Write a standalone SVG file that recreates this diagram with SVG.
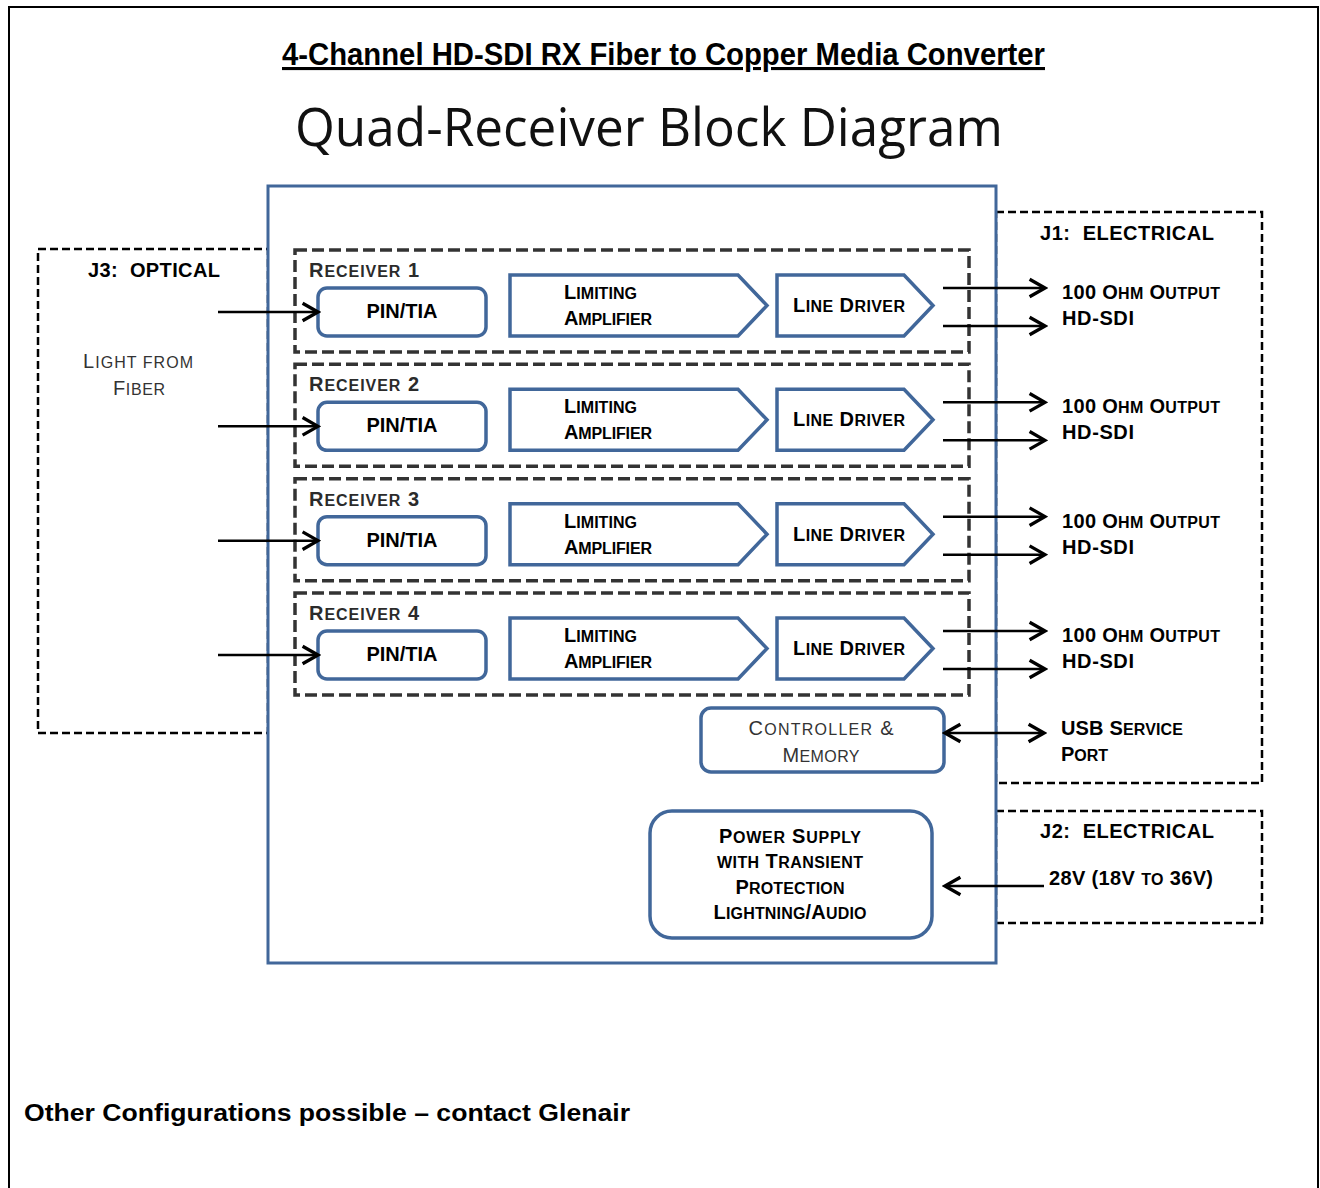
<svg xmlns="http://www.w3.org/2000/svg" width="1320" height="1188" viewBox="0 0 1320 1188">
<style>
text{font-family:"Liberation Sans",Arial,sans-serif;fill:#000}
.b{font-weight:bold;font-size:20px}
.r{font-weight:normal;font-size:20px;fill:#333}
.sc{font-size:16px}
.lbl{fill:#2b2b2b}
.blue{fill:#fff;stroke:#41679a;stroke-width:3.5}
.jbox{fill:none;stroke:#000;stroke-width:2.5;stroke-dasharray:8 4}
.rbox{fill:none;stroke:#333;stroke-width:3.5;stroke-dasharray:12 5}
.conn{stroke:#000;stroke-width:2.5;fill:none}
</style>
<defs>
<marker id="ah" markerUnits="userSpaceOnUse" markerWidth="22" markerHeight="22" viewBox="0 0 20 20" refX="17" refY="10" orient="auto-start-reverse">
<path d="M3,2 L17,10 L3,18" fill="none" stroke="#000" stroke-width="3"/>
</marker>
</defs>
<rect width="1320" height="1188" fill="#fff"/>
<path d="M9,1188 V7 H1318 V1188" fill="none" stroke="#000" stroke-width="2"/>

<text x="282" y="65" font-size="31" font-weight="bold" textLength="763" lengthAdjust="spacingAndGlyphs" text-decoration="underline">4-Channel HD-SDI RX Fiber to Copper Media Converter</text>
<text x="649" y="146" text-anchor="middle" style="font-family:'Open Sans','Noto Sans',sans-serif;font-size:53px;fill:#111" textLength="708" lengthAdjust="spacingAndGlyphs">Quad-Receiver Block Diagram</text>

<g id="j3">
<rect class="jbox" x="38" y="249" width="230" height="484"/>
<text class="b" x="88" y="277" textLength="132" xml:space="preserve">J3:  OPTICAL</text>
<text class="r" x="83" y="368" textLength="110">L<tspan class="sc">IGHT FROM</tspan></text>
<text class="r" x="113" y="395" textLength="52">F<tspan class="sc">IBER</tspan></text>
</g>
<g id="j1">
<rect class="jbox" x="996" y="212" width="266" height="571"/>
<text class="b" x="1040" y="240" textLength="174" xml:space="preserve">J1:  ELECTRICAL</text>
</g>
<g id="j2">
<rect class="jbox" x="996" y="811" width="266" height="112"/>
<text class="b" x="1040" y="838" textLength="174" xml:space="preserve">J2:  ELECTRICAL</text>
<text class="b" x="1049" y="885" textLength="164">28V (18V <tspan class="sc">TO</tspan> 36V)</text>
</g>

<g id="main">
<rect x="268" y="186" width="728" height="777" fill="#fff" stroke="#41679a" stroke-width="3"/>
</g>

<g id="receiver1">
<rect class="rbox" x="295" y="250" width="674" height="102"/>
<text class="b lbl" x="309" y="277" textLength="110">R<tspan class="sc">ECEIVER</tspan> 1</text>
</g>
<g id="receiver2" transform="translate(0,114.33)">
<rect class="rbox" x="295" y="250" width="674" height="102"/>
<text class="b lbl" x="309" y="277" textLength="110">R<tspan class="sc">ECEIVER</tspan> 2</text>
</g>
<g id="receiver3" transform="translate(0,228.67)">
<rect class="rbox" x="295" y="250" width="674" height="102"/>
<text class="b lbl" x="309" y="277" textLength="110">R<tspan class="sc">ECEIVER</tspan> 3</text>
</g>
<g id="receiver4" transform="translate(0,343)">
<rect class="rbox" x="295" y="250" width="674" height="102"/>
<text class="b lbl" x="309" y="277" textLength="110">R<tspan class="sc">ECEIVER</tspan> 4</text>
</g>

<g id="pintia1">
<rect class="blue" x="318" y="288" width="168" height="48" rx="9"/>
<text class="b" x="402" y="318" text-anchor="middle" font-size="20.5">PIN/TIA</text>
</g>
<g id="limamp1">
<path class="blue" d="M510,275 H738 L767,305.5 L738,336 H510 Z"/>
<text class="b" x="564" y="299" textLength="73">L<tspan class="sc">IMITING</tspan></text>
<text class="b" x="564" y="325" textLength="88">A<tspan class="sc">MPLIFIER</tspan></text>
</g>
<g id="linedrv1">
<path class="blue" d="M777,275 H904 L933,305.5 L904,336 H777 Z"/>
<text class="b" x="793" y="312" textLength="112">L<tspan class="sc">INE</tspan> D<tspan class="sc">RIVER</tspan></text>
</g>
<g id="out1">
<text class="b" x="1062" y="299" textLength="158">100 O<tspan class="sc">HM</tspan> O<tspan class="sc">UTPUT</tspan></text>
<text class="b" x="1062" y="325" textLength="72">HD-SDI</text>
</g>

<g id="pintia2" transform="translate(0,114.33)">
<rect class="blue" x="318" y="288" width="168" height="48" rx="9"/>
<text class="b" x="402" y="318" text-anchor="middle" font-size="20.5">PIN/TIA</text>
</g>
<g id="limamp2" transform="translate(0,114.33)">
<path class="blue" d="M510,275 H738 L767,305.5 L738,336 H510 Z"/>
<text class="b" x="564" y="299" textLength="73">L<tspan class="sc">IMITING</tspan></text>
<text class="b" x="564" y="325" textLength="88">A<tspan class="sc">MPLIFIER</tspan></text>
</g>
<g id="linedrv2" transform="translate(0,114.33)">
<path class="blue" d="M777,275 H904 L933,305.5 L904,336 H777 Z"/>
<text class="b" x="793" y="312" textLength="112">L<tspan class="sc">INE</tspan> D<tspan class="sc">RIVER</tspan></text>
</g>
<g id="out2" transform="translate(0,114.33)">
<text class="b" x="1062" y="299" textLength="158">100 O<tspan class="sc">HM</tspan> O<tspan class="sc">UTPUT</tspan></text>
<text class="b" x="1062" y="325" textLength="72">HD-SDI</text>
</g>

<g id="pintia3" transform="translate(0,228.67)">
<rect class="blue" x="318" y="288" width="168" height="48" rx="9"/>
<text class="b" x="402" y="318" text-anchor="middle" font-size="20.5">PIN/TIA</text>
</g>
<g id="limamp3" transform="translate(0,228.67)">
<path class="blue" d="M510,275 H738 L767,305.5 L738,336 H510 Z"/>
<text class="b" x="564" y="299" textLength="73">L<tspan class="sc">IMITING</tspan></text>
<text class="b" x="564" y="325" textLength="88">A<tspan class="sc">MPLIFIER</tspan></text>
</g>
<g id="linedrv3" transform="translate(0,228.67)">
<path class="blue" d="M777,275 H904 L933,305.5 L904,336 H777 Z"/>
<text class="b" x="793" y="312" textLength="112">L<tspan class="sc">INE</tspan> D<tspan class="sc">RIVER</tspan></text>
</g>
<g id="out3" transform="translate(0,228.67)">
<text class="b" x="1062" y="299" textLength="158">100 O<tspan class="sc">HM</tspan> O<tspan class="sc">UTPUT</tspan></text>
<text class="b" x="1062" y="325" textLength="72">HD-SDI</text>
</g>

<g id="pintia4" transform="translate(0,343)">
<rect class="blue" x="318" y="288" width="168" height="48" rx="9"/>
<text class="b" x="402" y="318" text-anchor="middle" font-size="20.5">PIN/TIA</text>
</g>
<g id="limamp4" transform="translate(0,343)">
<path class="blue" d="M510,275 H738 L767,305.5 L738,336 H510 Z"/>
<text class="b" x="564" y="299" textLength="73">L<tspan class="sc">IMITING</tspan></text>
<text class="b" x="564" y="325" textLength="88">A<tspan class="sc">MPLIFIER</tspan></text>
</g>
<g id="linedrv4" transform="translate(0,343)">
<path class="blue" d="M777,275 H904 L933,305.5 L904,336 H777 Z"/>
<text class="b" x="793" y="312" textLength="112">L<tspan class="sc">INE</tspan> D<tspan class="sc">RIVER</tspan></text>
</g>
<g id="out4" transform="translate(0,343)">
<text class="b" x="1062" y="299" textLength="158">100 O<tspan class="sc">HM</tspan> O<tspan class="sc">UTPUT</tspan></text>
<text class="b" x="1062" y="325" textLength="72">HD-SDI</text>
</g>

<g id="controller">
<rect class="blue" x="701" y="708" width="243" height="64" rx="10"/>
<text class="r" x="821" y="735" text-anchor="middle" textLength="145">C<tspan class="sc">ONTROLLER</tspan> &amp;</text>
<text class="r" x="821" y="762" text-anchor="middle" textLength="77">M<tspan class="sc">EMORY</tspan></text>
</g>
<g id="usb">
<text class="b" x="1061" y="735" textLength="122">USB S<tspan class="sc">ERVICE</tspan></text>
<text class="b" x="1061" y="761" textLength="47">P<tspan class="sc">ORT</tspan></text>
</g>
<g id="power">
<rect class="blue" x="650" y="811" width="282" height="127" rx="22"/>
<text class="b" x="790" y="843" text-anchor="middle" textLength="142">P<tspan class="sc">OWER</tspan> S<tspan class="sc">UPPLY</tspan></text>
<text class="b" x="790" y="868" text-anchor="middle" textLength="146"><tspan class="sc">WITH</tspan> T<tspan class="sc">RANSIENT</tspan></text>
<text class="b" x="790" y="894" text-anchor="middle" textLength="109">P<tspan class="sc">ROTECTION</tspan></text>
<text class="b" x="790" y="919" text-anchor="middle" textLength="153">L<tspan class="sc">IGHTNING</tspan>/A<tspan class="sc">UDIO</tspan></text>
</g>

<g id="connectors">
<line class="conn" x1="218" y1="312" x2="318" y2="312" marker-end="url(#ah)"/>
<line class="conn" x1="218" y1="426.33" x2="318" y2="426.33" marker-end="url(#ah)"/>
<line class="conn" x1="218" y1="540.67" x2="318" y2="540.67" marker-end="url(#ah)"/>
<line class="conn" x1="218" y1="655" x2="318" y2="655" marker-end="url(#ah)"/>
<line class="conn" x1="943" y1="288" x2="1045" y2="288" marker-end="url(#ah)"/>
<line class="conn" x1="943" y1="326" x2="1045" y2="326" marker-end="url(#ah)"/>
<line class="conn" x1="943" y1="402.33" x2="1045" y2="402.33" marker-end="url(#ah)"/>
<line class="conn" x1="943" y1="440.33" x2="1045" y2="440.33" marker-end="url(#ah)"/>
<line class="conn" x1="943" y1="516.67" x2="1045" y2="516.67" marker-end="url(#ah)"/>
<line class="conn" x1="943" y1="554.67" x2="1045" y2="554.67" marker-end="url(#ah)"/>
<line class="conn" x1="943" y1="631" x2="1045" y2="631" marker-end="url(#ah)"/>
<line class="conn" x1="943" y1="669" x2="1045" y2="669" marker-end="url(#ah)"/>
<line class="conn" x1="945" y1="733" x2="1044" y2="733" marker-start="url(#ah)" marker-end="url(#ah)"/>
<line class="conn" x1="1044" y1="886" x2="945" y2="886" marker-end="url(#ah)"/>
</g>

<text x="24" y="1121" font-size="24" font-weight="bold" textLength="606" lengthAdjust="spacingAndGlyphs">Other Configurations possible – contact Glenair</text>
</svg>
